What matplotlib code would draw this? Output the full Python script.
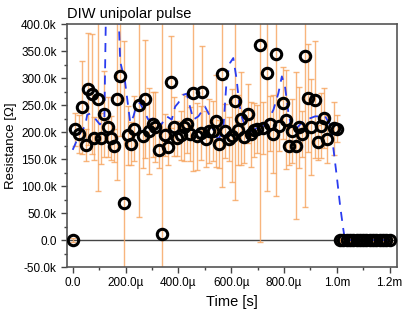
import matplotlib
matplotlib.use("Agg")
import matplotlib.pyplot as plt
from matplotlib.ticker import FuncFormatter, MultipleLocator
import numpy as np

plt.rcParams['font.family'] = ['Liberation Sans', 'DejaVu Sans']

# measured points: time (µs), resistance (kΩ), error (kΩ)
time_us = [0, 9, 24, 34, 49, 57, 72, 82, 95, 107, 120, 133, 145, 158, 167, 180, 193, 208, 219, 233,
           252, 265, 275, 288, 303, 313, 326, 337, 348, 361, 373, 384, 396, 409, 422, 432, 444, 457,
           470, 484, 491, 505, 517, 530, 543, 554, 567, 578, 590, 602, 614, 627, 636, 650, 663, 674,
           686, 699, 711, 722, 735, 747, 759, 770, 783, 795, 808, 819, 832, 846, 858, 869, 880, 891,
           904, 916, 928, 939, 952, 964, 990, 1000,
           1012, 1025, 1037, 1050, 1062, 1075, 1087, 1100, 1112, 1125, 1137, 1150, 1162, 1175, 1187, 1200]
resist_k = [0, 205, 197, 246, 176, 280, 271, 188, 262, 188, 233, 209, 189, 175, 262, 303, 68, 194, 178, 206,
            250, 192, 261, 202, 214, 209, 166, 12, 194, 173, 293, 210, 188, 194, 209, 214, 196, 272,
            192, 198, 275, 187, 202, 202, 221, 178, 308, 202, 187, 193, 258, 203, 225, 190, 234, 196,
            204, 206, 362, 208, 309, 215, 196, 345, 212, 254, 223, 174, 202, 175, 209, 196, 341, 263,
            210, 260, 181, 212, 226, 187, 207, 206,
            0, 0, 0, 0, 0, 0, 0, 0, 0, 0, 0, 0, 0, 0, 0, 0]
error_k = [3, 31, 35, 86, 30, 104, 111, 40, 171, 47, 80, 55, 40, 30, 151, 110, 300, 55, 40, 60,
           207, 58, 110, 80, 60, 65, 32, 420, 39, 35, 85, 55, 32, 45, 62, 53, 50, 145,
           62, 50, 85, 51, 60, 55, 85, 45, 210, 50, 41, 86, 183, 65, 87, 48, 55, 60,
           50, 44, 365, 48, 219, 51, 72, 264, 48, 67, 91, 35, 60, 137, 75, 42, 279, 100,
           89, 108, 32, 60, 55, 44, 49, 25,
           3, 3, 3, 3, 3, 3, 3, 3, 3, 3, 3, 3, 3, 3, 3, 3]

# smoothed trend (blue dashed)
trend_t_us = [0, 28, 47, 55, 66, 78, 103, 120, 140, 180, 198, 218, 230, 242, 255, 286, 305, 330, 356,
              375, 388, 400, 419, 432, 444, 457, 476, 501, 520, 533, 551, 570, 583, 596, 608, 621, 630,
              640, 653, 678, 703, 722, 741, 760, 779, 792, 804, 817, 830, 848, 867, 886, 918, 956, 978,
              987, 1000, 1013, 1025, 1031, 1200]
trend_k = [167, 198, 211, 232, 234, 229, 214, 226, 900, 330, 294, 217, 229, 250, 254, 223, 225, 210, 229,
           223, 247, 254, 269, 271, 247, 223, 229, 247, 229, 201, 186, 204, 297, 328, 337, 297, 254,
           229, 210, 201, 210, 210, 223, 241, 272, 303, 284, 235, 204, 207, 217, 223, 229, 229, 210,
           170, 118, 62, 19, 0, 0]

t = np.array(time_us) * 1e-6
r = np.array(resist_k) * 1e3
e = np.array(error_k) * 1e3
tt = np.array(trend_t_us) * 1e-6
tr = np.array(trend_k) * 1e3

fig = plt.figure(figsize=(4.07, 3.09), dpi=100)
ax = fig.add_axes([0.1646, 0.1359, 0.8108, 0.7864])

ax.axhline(0, color='#444444', lw=1.0, zorder=1)
ax.errorbar(t, r, yerr=e, fmt='none', ecolor='#f7a35c', elinewidth=1.0, capsize=2,
            capthick=1.0, alpha=0.8, zorder=2)
ax.plot(tt, tr, color='#2a3cf0', lw=1.3, dashes=(5, 4), zorder=3)
ax.plot(t, r, 'o', ms=7.5, mfc='none', mec='black', mew=2.2, zorder=4)

ax.set_xlim(-21.6e-6, 1.228e-3)
ax.set_ylim(-50e3, 400e3)

def xfmt(v, pos):
    if abs(v) < 1e-12:
        return '0.0'
    if abs(v) < 1e-3 - 1e-9:
        return f'{v*1e6:.1f}µ'
    return f'{v*1e3:.1f}m'

def yfmt(v, pos):
    if abs(v) < 1e-6:
        return '0.0'
    return f'{v/1e3:.1f}k'

ax.xaxis.set_major_locator(MultipleLocator(200e-6))
ax.xaxis.set_minor_locator(MultipleLocator(100e-6))
ax.yaxis.set_major_locator(MultipleLocator(50e3))
ax.yaxis.set_minor_locator(MultipleLocator(25e3))
ax.xaxis.set_major_formatter(FuncFormatter(xfmt))
ax.yaxis.set_major_formatter(FuncFormatter(yfmt))
ax.tick_params(axis='both', which='major', labelsize=8.5, length=4, width=1, color='#444444', direction='out')
ax.tick_params(axis='both', which='minor', length=2.5, width=1, color='#444444', direction='out')

for s in ax.spines.values():
    s.set_color('#555555')
    s.set_linewidth(1.2)

ax.set_title('DIW unipolar pulse', loc='left', fontsize=10.5, pad=4)
ax.set_xlabel('Time [s]', fontsize=10.5, labelpad=4)
ax.set_ylabel('Resistance [Ω]', fontsize=9.5, labelpad=3)

fig.savefig('out.png', dpi=100)
